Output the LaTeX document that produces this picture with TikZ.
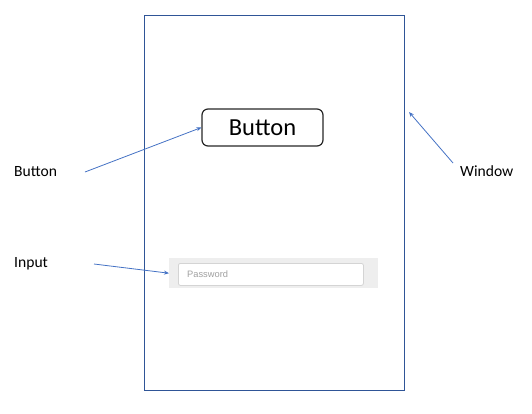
\documentclass[tikz,border=0pt]{standalone}
\usepackage{fontspec}
\setmainfont{Carlito}
\newfontfamily\arialfont{Liberation Sans}
\usetikzlibrary{arrows.meta}
\definecolor{winblue}{HTML}{2F5597}
\definecolor{arrblue}{HTML}{4472C4}
\definecolor{bandgrey}{HTML}{EEEEEE}
\definecolor{fieldborder}{HTML}{D4D4D4}
\definecolor{phgrey}{HTML}{A0A0A0}
\tikzset{
  lbl/.style={font=\fontsize{15.6}{18}\selectfont, inner sep=0pt, anchor=west},
  callout/.style={draw=arrblue, line width=0.8pt, -{Stealth[length=5pt,width=4pt]}},
}
\begin{document}
\begin{tikzpicture}[x=1pt,y=-1pt]
\useasboundingbox (0,0) rectangle (532,413);
\node[draw=winblue, line width=1pt, minimum width=259.7pt, minimum height=374.7pt, inner sep=0pt, anchor=north west] (win) at (144,15.3) {};
\node[draw=black!85, line width=1.2pt, rounded corners=6pt, minimum width=121pt, minimum height=37pt, inner sep=0pt, font=\fontsize{24.5}{28}\selectfont] (btn) at (262.5,127.5) {Button};
\node[fill=bandgrey, minimum width=209pt, minimum height=30pt, inner sep=0pt, anchor=north west] (band) at (169,258) {};
\node[fill=white, draw=fieldborder, line width=0.8pt, rounded corners=2pt, minimum width=185pt, minimum height=22pt, inner sep=0pt, anchor=north west] (field) at (178,263) {};
\node[font=\arialfont\fontsize{9.3}{11}\selectfont, text=phgrey, anchor=west, inner sep=0pt] (pw) at (187,274) {Password};
\node[lbl] (lbtn) at (14,172) {Button};
\node[lbl] (linp) at (14,264) {Input};
\node[lbl] (lwin) at (460,171) {Window};
\coordinate (a1) at (85,172);
\coordinate (a2) at (94,264);
\coordinate (a3) at (453,163);
\draw[callout] (a1) -- (btn.west);
\draw[callout] (a2) -- (band.west);
\draw[callout] (a3) -- (409,112);
\end{tikzpicture}
\end{document}
